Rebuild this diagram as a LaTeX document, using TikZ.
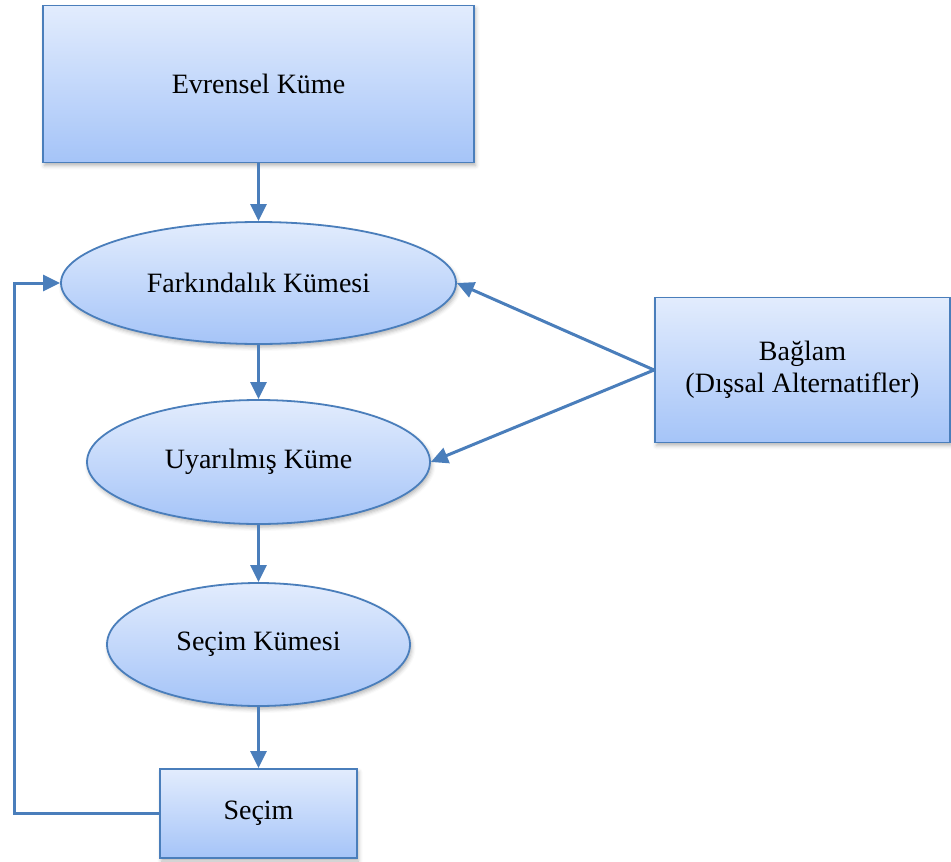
\documentclass[tikz,border=0pt]{standalone}
\usepackage{fontspec}
\setmainfont{Liberation Serif}
\usetikzlibrary{shapes.geometric,arrows.meta,shadows.blur}
\definecolor{edge}{HTML}{4A7EBB}
\definecolor{filltop}{HTML}{E2ECFD}
\definecolor{fillbot}{HTML}{A5C4F8}
\tikzset{
  shape base/.style={draw=edge, line width=1.8pt, top color=filltop, bottom color=fillbot,
    inner sep=0pt, font=\fontsize{28}{32}\selectfont, text=black, align=center,
    blur shadow={shadow xshift=1.5pt, shadow yshift=-3pt, shadow blur radius=4pt, shadow opacity=30}},
  boxnode/.style={shape base, rectangle},
  setnode/.style={shape base, ellipse},
  flow/.style={draw=edge, line width=3pt, -{Triangle[length=17pt,width=16pt]}}
}
\begin{document}
\begin{tikzpicture}[x=1pt,y=-1pt]
  \useasboundingbox (0,0) rectangle (951,862);

  % stages of the funnel
  \node[boxnode, minimum width=431pt, minimum height=157pt] (evren) at (258.5,84) {Evrensel Küme};
  \node[setnode, minimum width=395pt, minimum height=122pt] (fark) at (258.5,283) {Farkındalık Kümesi};
  \node[setnode, minimum width=343pt, minimum height=124pt] (uyar) at (258.5,462) {Uyarılmış Küme};
  \node[setnode, minimum width=303pt, minimum height=123pt] (secimk) at (258.5,644.5) {Seçim Kümesi};
  \node[boxnode, minimum width=197pt, minimum height=89pt] (secim) at (258.5,813.5) {Seçim};

  % external context
  \node[boxnode, minimum width=295pt, minimum height=145pt] (baglam) at (802.5,370) {Bağlam\\(Dışsal Alternatifler)};

  % main flow
  \draw[flow] (evren.south) -- (fark.north);
  \draw[flow] (fark.south) -- (uyar.north);
  \draw[flow] (uyar.south) -- (secimk.north);
  \draw[flow] (secimk.south) -- (secim.north);

  % feedback loop from choice back to awareness
  \coordinate (loopbot) at (14,813.5);
  \coordinate (looptop) at (14,283);
  \draw[flow] (secim.west) -- (loopbot) -- (looptop) -- (fark.west);

  % context influences
  \draw[flow] (baglam.west) -- (fark.east);
  \draw[flow] (baglam.west) -- (uyar.east);
\end{tikzpicture}
\end{document}
